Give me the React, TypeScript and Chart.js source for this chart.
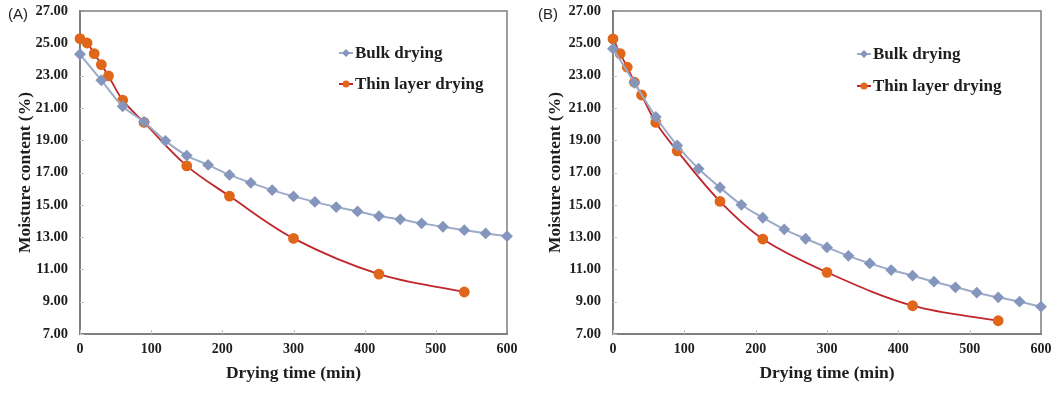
import React, { useEffect, useRef } from "react";
import { Chart, registerables } from "chart.js";

Chart.register(...registerables);

// ---- data ----
const bulkTimes = [0, 30, 60, 90, 120, 150, 180, 210, 240, 270, 300, 330, 360, 390, 420, 450, 480, 510, 540, 570, 600];
const thinTimes = [0, 10, 20, 30, 40, 60, 90, 150, 210, 300, 420, 540];

const bulkA = [24.32, 22.71, 21.1, 20.13, 18.96, 18.05, 17.47, 16.85, 16.36, 15.91, 15.52, 15.18, 14.86, 14.59, 14.3, 14.1, 13.85, 13.64, 13.43, 13.23, 13.06];
const thinA = [25.29, 25.02, 24.36, 23.68, 22.98, 21.48, 20.1, 17.41, 15.54, 12.92, 10.71, 9.6];

const bulkB = [24.67, 22.55, 20.44, 18.67, 17.23, 16.07, 15.0, 14.2, 13.48, 12.9, 12.36, 11.84, 11.37, 10.96, 10.61, 10.24, 9.89, 9.56, 9.27, 9.0, 8.69];
const thinB = [25.27, 24.36, 23.52, 22.59, 21.8, 20.1, 18.34, 15.21, 12.88, 10.82, 8.75, 7.82];

const seriesNames = ["Bulk drying", "Thin layer drying"];
const panelLabels = ["(A)", "(B)"];
const xTitle = "Drying time (min)";
const yTitle = "Moisture content (%)";

const BULK_LINE = "#9cabc9";
const BULK_MARK = "#8596bd";
const THIN_LINE = "#c0262b";
const THIN_MARK = "#e0661a";
const AXIS = "#7f7f7f";
const TEXT = "#1e1e1e";
const SERIF = "'Liberation Serif', 'Times New Roman', serif";

const framePlugin = {
  id: "frame",
  beforeDatasetsDraw(chart: any) {
    const { ctx, chartArea } = chart;
    const { left, right, top, bottom } = chartArea;
    ctx.save();
    ctx.strokeStyle = "#c4c4c4";
    ctx.lineWidth = 1;
    const xs = chart.scales.x;
    const ys = chart.scales.y;
    xs.ticks.forEach((t: any) => {
      const px = Math.round(xs.getPixelForValue(t.value)) + 0.5;
      ctx.beginPath();
      ctx.moveTo(px, bottom);
      ctx.lineTo(px, bottom - 4);
      ctx.stroke();
    });
    ys.ticks.forEach((t: any) => {
      const py = Math.round(ys.getPixelForValue(t.value)) + 0.5;
      ctx.beginPath();
      ctx.moveTo(left, py);
      ctx.lineTo(left + 4, py);
      ctx.stroke();
    });
    ctx.strokeStyle = AXIS;
    ctx.lineWidth = 1.5;
    ctx.beginPath();
    ctx.moveTo(left, top);
    ctx.lineTo(right, top);
    ctx.lineTo(right, bottom);
    ctx.stroke();
    ctx.restore();
  },
};

const legendPlugin = {
  id: "customLegend",
  afterDraw(chart: any, _args: any, opts: any) {
    const { ctx } = chart;
    ctx.save();
    chart.data.datasets.forEach((ds: any, i: number) => {
      const x = opts.x;
      const y = opts.y + i * opts.gap;
      ctx.strokeStyle = ds.borderColor;
      ctx.lineWidth = 2;
      ctx.beginPath();
      ctx.moveTo(x, y);
      ctx.lineTo(x + 14, y);
      ctx.stroke();
      ctx.fillStyle = ds.pointBackgroundColor;
      const cx = x + 7;
      if (ds.pointStyle === "rectRot") {
        ctx.beginPath();
        ctx.moveTo(cx, y - 4);
        ctx.lineTo(cx + 4, y);
        ctx.lineTo(cx, y + 4);
        ctx.lineTo(cx - 4, y);
        ctx.closePath();
        ctx.fill();
      } else {
        ctx.beginPath();
        ctx.arc(cx, y, 3.5, 0, Math.PI * 2);
        ctx.fill();
      }
      ctx.fillStyle = TEXT;
      ctx.font = `bold 17px ${SERIF}`;
      ctx.textBaseline = "middle";
      ctx.textAlign = "left";
      ctx.fillText(ds.label, x + 16, y + 1);
    });
    ctx.restore();
  },
};

function toPoints(xs: number[], ys: number[]) {
  return xs.map((x, i) => ({ x, y: ys[i] }));
}

type PanelProps = {
  bulk: number[];
  thin: number[];
  axisWidth: number;
  rightPad: number;
  legendX: number;
  legendY: number;
  legendGap: number;
};

function Panel({ bulk, thin, axisWidth, rightPad, legendX, legendY, legendGap }: PanelProps) {
  const ref = useRef<HTMLCanvasElement | null>(null);
  useEffect(() => {
    if (!ref.current) return;
    const chart = new Chart(ref.current, {
      type: "line",
      data: {
        datasets: [
          {
            label: seriesNames[0],
            data: toPoints(bulkTimes, bulk),
            borderColor: BULK_LINE,
            backgroundColor: BULK_MARK,
            pointBackgroundColor: BULK_MARK,
            pointBorderColor: BULK_MARK,
            pointStyle: "rectRot",
            pointRadius: 4.5,
            borderWidth: 2,
            tension: 0.35,
            clip: false as any,
          },
          {
            label: seriesNames[1],
            data: toPoints(thinTimes, thin),
            borderColor: THIN_LINE,
            backgroundColor: THIN_MARK,
            pointBackgroundColor: THIN_MARK,
            pointBorderColor: THIN_MARK,
            pointStyle: "circle",
            pointRadius: 4.5,
            borderWidth: 1.8,
            tension: 0.35,
            clip: false as any,
          },
        ],
      },
      options: {
        animation: false,
        responsive: false,
        maintainAspectRatio: false,
        events: [],
        layout: { padding: { left: 0, top: 11, right: rightPad, bottom: 0 } },
        plugins: {
          legend: { display: false },
          tooltip: { enabled: false },
          customLegend: { x: legendX, y: legendY, gap: legendGap },
        } as any,
        scales: {
          x: {
            type: "linear",
            min: 0,
            max: 600,
            grid: { display: false, drawTicks: false, tickLength: 0 },
            border: { display: true, color: AXIS, width: 2 },
            ticks: {
              stepSize: 100,
              padding: 7,
              color: TEXT,
              font: { family: SERIF, size: 14, weight: "bold" },
            },
            title: {
              display: true,
              text: xTitle,
              color: TEXT,
              padding: 25,
              font: { family: SERIF, size: 17.5, weight: "bold" },
            },
            afterFit(scale: any) {
              scale.height = 75;
              scale.paddingLeft = 0;
              scale.paddingRight = 0;
            },
          },
          y: {
            type: "linear",
            min: 7,
            max: 27,
            grid: { display: false, drawTicks: false, tickLength: 0 },
            border: { display: true, color: AXIS, width: 2 },
            ticks: {
              stepSize: 2,
              padding: 12,
              color: TEXT,
              font: { family: SERIF, size: 14.5, weight: "bold" },
              callback: (v: any) => Number(v).toFixed(2),
            },
            title: {
              display: true,
              text: yTitle,
              color: TEXT,
              padding: 15,
              font: { family: SERIF, size: 17.5, weight: "bold" },
            },
            afterFit(scale: any) {
              scale.width = axisWidth;
              scale.paddingTop = 0;
              scale.paddingBottom = 0;
            },
          },
        },
      },
      plugins: [framePlugin, legendPlugin],
    });
    return () => chart.destroy();
  }, []);
  return <canvas ref={ref} width={530} height={409} style={{ display: "block", width: 530, height: 409 }} />;
}

export default function App() {
  const labelStyle: React.CSSProperties = {
    position: "absolute",
    top: 5,
    fontFamily: "'Liberation Sans', Arial, sans-serif",
    fontSize: 15,
    color: "#222",
    lineHeight: "17px",
  };
  return (
    <div style={{ position: "fixed", left: 0, top: 0, width: 1060, height: 409, background: "#fff", overflow: "hidden" }}>
      <div style={{ position: "absolute", left: 0, top: 0, width: 530, height: 409 }}>
        <Panel bulk={bulkA} thin={thinA} axisWidth={80} rightPad={23} legendX={339} legendY={53} legendGap={31} />
      </div>
      <div style={{ position: "absolute", left: 530, top: 0, width: 530, height: 409 }}>
        <Panel bulk={bulkB} thin={thinB} axisWidth={83} rightPad={19} legendX={327} legendY={54} legendGap={32} />
      </div>
      <span style={{ ...labelStyle, left: 8 }}>{panelLabels[0]}</span>
      <span style={{ ...labelStyle, left: 538 }}>{panelLabels[1]}</span>
    </div>
  );
}
